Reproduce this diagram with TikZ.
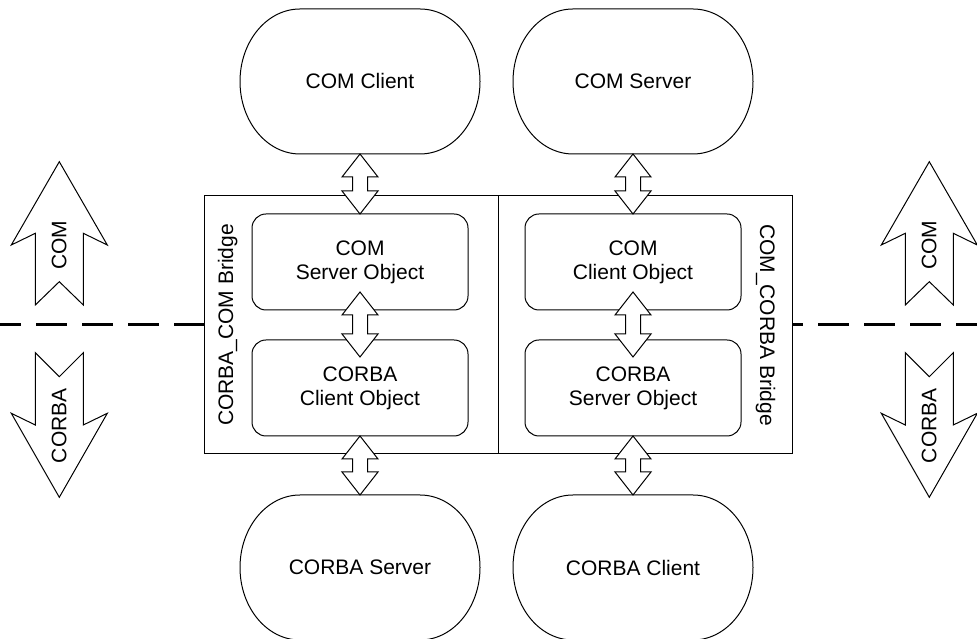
\documentclass[tikz,border=0pt]{standalone}
\usepackage{fontspec}
\setmainfont{Liberation Sans}
\usetikzlibrary{calc}

% outline of a client/server end point: flat top and bottom, half-ellipse ends
\newcommand\drawstadium[1]{%
  \draw[ln] ($(#1.north)+(-60,0)$) -- ($(#1.north)+(60,0)$)
    arc[start angle=90, end angle=-90, x radius=60, y radius=72.5]
    -- ($(#1.south)+(-60,0)$)
    arc[start angle=270, end angle=90, x radius=60, y radius=72.5] -- cycle;}

\begin{document}
\begin{tikzpicture}[x=1pt, y=1pt,
  every node/.style={font=\fontsize{21}{24}\selectfont, inner sep=0pt, outer sep=0pt},
  ln/.style={draw=black, line width=1pt},
  objbox/.style={ln, fill=white, rounded corners=14pt, minimum width=216pt,
                 minimum height=96pt, align=center},
  bridgebox/.style={ln, fill=white, minimum width=294pt, minimum height=257.3pt},
  endpoint/.style={minimum width=240pt, minimum height=145pt},
  divide/.style={line width=3pt, dash pattern=on 31pt off 15pt},
  % hollow two-headed block arrow, drawn from an upper tip to a lower tip
  fat/.style={to path={
      -- ($(\tikztostart)+(18,-23)$) -- ($(\tikztostart)+(7.5,-23)$)
      -- ($(\tikztotarget)+(7.5,23)$) -- ($(\tikztotarget)+(18,23)$)
      -- (\tikztotarget)
      -- ($(\tikztotarget)+(-18,23)$) -- ($(\tikztotarget)+(-7.5,23)$)
      -- ($(\tikztostart)+(-7.5,-23)$) -- ($(\tikztostart)+(-18,-23)$)
      -- cycle}}]

\useasboundingbox (0,0) rectangle (977,639);
\clip (0,0) rectangle (977,639);

% boundary between the COM world and the CORBA world
\coordinate (dashL) at (-10,314.3);
\coordinate (dashR) at (990,314.3);
\draw[divide] (dashL) -- (dashR);

% the two bridges
\node[bridgebox] (bridgeL) at (351.3,314.35) {};
\node[bridgebox] (bridgeR) at (645.3,314.35) {};
\node[rotate=90, anchor=base] (labelL) at (233,314) {CORBA\_COM Bridge};
\node[rotate=-90, anchor=base] (labelR) at (760,314) {COM\_CORBA Bridge};

% proxy objects inside the bridges
\node[objbox] (csobj) at (360,377) {COM\\Server Object};
\node[objbox] (ccobj) at (360,251) {CORBA\\Client Object};
\node[objbox] (clobj) at (633,377) {COM\\Client Object};
\node[objbox] (svobj) at (633,251) {CORBA\\Server Object};

% clients and servers
\node[endpoint] (comclient) at (360,557.5) {COM Client};
\node[endpoint] (comserver) at (633,557.5) {COM Server};
\node[endpoint] (corbaserver) at (360,71.5) {CORBA Server};
\node[endpoint] (corbaclient) at (633,71.5) {CORBA Client};
\drawstadium{comclient}
\drawstadium{comserver}
\drawstadium{corbaserver}
\drawstadium{corbaclient}

% links
\coordinate (m1top) at ($(csobj.south)+(0,18)$);
\coordinate (m1bot) at ($(ccobj.north)+(0,-17)$);
\coordinate (m2top) at ($(clobj.south)+(0,18)$);
\coordinate (m2bot) at ($(svobj.north)+(0,-17)$);
\draw[ln, fill=white] (comclient.south) to[fat] (csobj.north);
\draw[ln, fill=white] (m1top) to[fat] (m1bot);
\draw[ln, fill=white] (ccobj.south) to[fat] (corbaserver.north);
\draw[ln, fill=white] (comserver.south) to[fat] (clobj.north);
\draw[ln, fill=white] (m2top) to[fat] (m2bot);
\draw[ln, fill=white] (svobj.south) to[fat] (corbaclient.north);

% side markers for the two worlds
\foreach \cx/\side in {59.3/L, 929.3/R} {
  \begin{scope}[shift={(\cx,0)}]
    \draw[ln] (0,477.3) -- (48,394) -- (24,405.7) -- (24,334) -- (0,357.3)
      -- (-24,334) -- (-24,405.7) -- (-48,394) -- cycle;
    \node[rotate=90, anchor=base] (com\side) at (7,393.5) {COM};
    \draw[ln] (-24,286.3) -- (0,262.3) -- (24,286.3) -- (24,214) -- (48,225.7)
      -- (0,141.7) -- (-48,225.7) -- (-24,214) -- cycle;
    \node[rotate=90, anchor=base] (corba\side) at (7,213.3) {CORBA};
  \end{scope}
}
\end{tikzpicture}
\end{document}
